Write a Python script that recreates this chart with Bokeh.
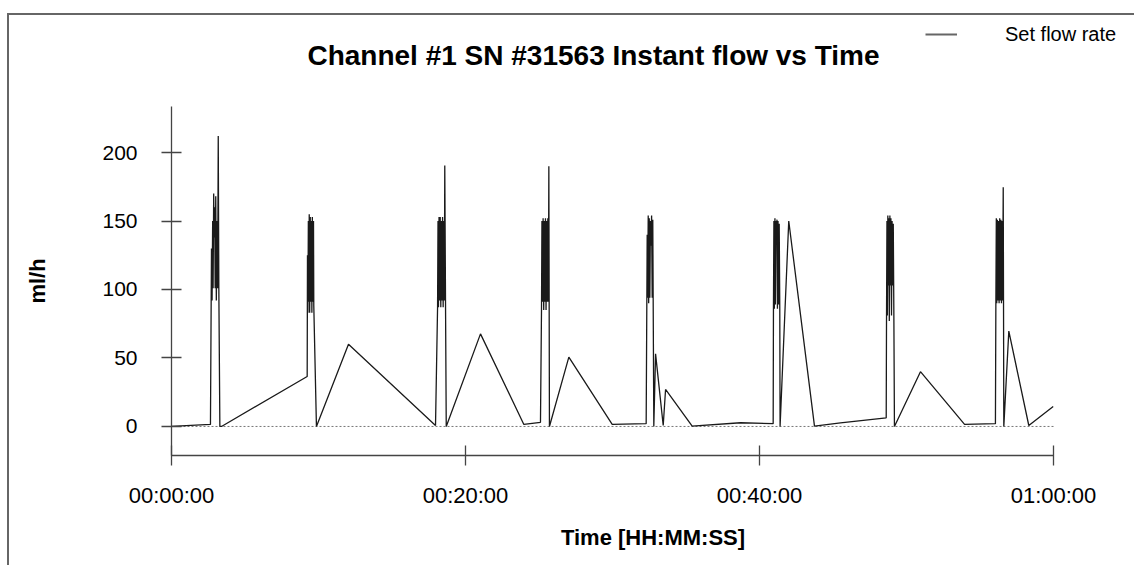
from bokeh.plotting import figure
from bokeh.layouts import column
from bokeh.models import Range1d, FixedTicker, Legend, LegendItem, Label
from bokeh.embed import file_html
from bokeh.resources import INLINE

# ---- data (time in minutes, flow in ml/h) ----
time_min = [
    0.00, 2.65,
    2.72, 2.76, 2.80, 2.83, 2.87, 2.90, 2.94, 2.97, 3.01, 3.05, 3.10, 3.14, 3.18, 3.22, 3.29,
    3.40, 9.23,
    9.25, 9.28, 9.31, 9.34, 9.37, 9.40, 9.44, 9.47, 9.51, 9.55, 9.58, 9.62, 9.66, 9.68, 9.86,
    12.04, 17.96,
    18.10, 18.13, 18.16, 18.20, 18.24, 18.28, 18.32, 18.36, 18.40, 18.44, 18.48, 18.52, 18.56, 18.59, 18.64, 18.69,
    21.02, 23.97, 25.10,
    25.17, 25.20, 25.24, 25.28, 25.32, 25.36, 25.40, 25.44, 25.48, 25.52, 25.56, 25.60, 25.64, 25.67, 25.71,
    27.03, 29.98, 32.29,
    32.36, 32.39, 32.43, 32.46, 32.50, 32.54, 32.58, 32.62, 32.66, 32.70, 32.74, 32.81,
    32.93, 33.45, 33.61, 35.42, 38.71, 40.93,
    40.95, 40.98, 41.01, 41.05, 41.08, 41.12, 41.15, 41.19, 41.22, 41.26, 41.30, 41.34, 41.38, 41.40,
    41.99, 43.74, 45.51, 48.62,
    48.64, 48.67, 48.70, 48.73, 48.76, 48.80, 48.83, 48.87, 48.90, 48.94, 48.98, 49.02, 49.06, 49.10, 49.14, 49.18,
    50.95, 53.95, 56.05,
    56.08, 56.11, 56.14, 56.18, 56.22, 56.26, 56.30, 56.34, 56.38, 56.42, 56.46, 56.50, 56.54, 56.58, 56.60, 56.62,
    56.96, 58.32, 59.98,
]
flow_mlh = [
    0.0, 1.5,
    130, 92, 150, 101, 170, 138, 160, 101, 168, 92, 150, 101, 212, 101, 0,
    0, 36.5,
    125, 83, 150, 91, 155, 83, 153, 91, 150, 83, 153, 91, 150, 88, 0,
    60, 0.7,
    87, 150, 87, 153, 92, 153, 87, 150, 92, 153, 87, 150, 92, 190.5, 92, 0,
    67.6, 1.5, 3,
    85, 150, 91, 152, 85, 150, 91, 152, 85, 150, 91, 152, 91, 190, 0,
    50.6, 1.5, 2,
    140, 94, 154, 90, 152, 94, 150, 132, 154, 94, 151, 0,
    53, 0.7, 27, 0.2, 2.7, 2,
    89, 150, 86, 152, 89, 150, 133, 151, 86, 150, 89, 148, 86, 0,
    150, 0.2, 2.6, 6.3,
    77, 150, 81, 154, 103, 152, 77, 154, 103, 152, 81, 150, 103, 148, 82, 0,
    40, 1.5, 2,
    92, 152, 90, 151, 92, 150, 90, 152, 92, 151, 90, 150, 92, 174.7, 92, 0,
    69.6, 0.7, 14.6,
]
x_ticks = [0, 20, 40, 60]
x_tick_labels = ["00:00:00", "00:20:00", "00:40:00", "01:00:00"]
y_ticks = [0, 50, 100, 150, 200]
y_axis_extent = (-21.2, 233.6)
title_text = "Channel #1 SN #31563 Instant flow vs Time"
x_title = "Time [HH:MM:SS]"
y_title = "ml/h"
legend_label = "Set flow rate"

FONT = "Liberation Sans"
AX = "#444444"

W = 1125          # canvas width (after 7px margin + 2px border)
HT = 91           # header (title + legend) height
HM = 459          # main plot height
FL = 162          # frame left offset (shared by both figures)
PX_PER_MIN = 14.7
FW = W - FL       # frame width

# ---------------- header: title + legend ----------------
top = figure(width=W, height=HT, output_backend="svg", toolbar_location=None, title=None,
             x_axis_type=None, y_axis_type=None,
             x_range=Range1d(0, FW), y_range=Range1d(0, HT),
             min_border_left=FL, min_border_right=0, min_border_top=0, min_border_bottom=0)
top.grid.visible = False
top.outline_line_color = None
top.background_fill_color = "white"
top.border_fill_color = "white"

top.add_layout(Label(x=422, y=51, text=title_text, text_align="center", text_baseline="middle",
                     text_font=FONT, text_font_size="28px", text_font_style="bold", text_color="black"))

lr = top.line([0], [0], line_color="#666666", line_width=2)
legend = Legend(items=[LegendItem(label=legend_label, renderers=[lr])],
                location=(754, 60), padding=0, margin=0, spacing=0,
                glyph_width=32, glyph_height=24, label_height=24, label_standoff=48,
                label_text_font=FONT, label_text_font_size="20px", label_text_color="black",
                border_line_color=None, background_fill_alpha=0)
top.add_layout(legend, "center")

# ---------------- main plot ----------------
p = figure(width=W, height=HM, output_backend="svg", toolbar_location=None, title=None,
           x_range=Range1d(x_ticks[0], x_ticks[0] + FW / PX_PER_MIN), y_range=Range1d(*y_axis_extent),
           min_border_left=FL, min_border_right=0, min_border_top=0, min_border_bottom=110)
p.grid.visible = False
p.outline_line_color = None
p.background_fill_color = "white"
p.border_fill_color = "white"

xa = p.xaxis[0]
xa.ticker = FixedTicker(ticks=x_ticks)
xa.major_label_overrides = {t: l for t, l in zip(x_ticks, x_tick_labels)}
xa.axis_label = x_title
xa.bounds = (x_ticks[0], x_ticks[-1])
ya = p.yaxis[0]
ya.ticker = FixedTicker(ticks=y_ticks)
ya.axis_label = y_title
for ax in (xa, ya):
    ax.axis_line_color = AX
    ax.axis_line_width = 1.3
    ax.major_tick_line_color = AX
    ax.major_tick_line_width = 1.3
    ax.major_tick_in = 10
    ax.major_tick_out = 10
    ax.minor_tick_line_color = None
    ax.major_label_text_font = FONT
    ax.major_label_text_font_size = "21px"
    ax.major_label_text_color = "black"
    ax.axis_label_text_font = FONT
    ax.axis_label_text_font_size = "22px"
    ax.axis_label_text_font_style = "bold"
    ax.axis_label_text_color = "black"
xa.major_label_text_font_size = "22px"
xa.major_label_standoff = 17
xa.axis_label_standoff = 14
ya.major_label_standoff = 24
ya.axis_label_standoff = 49

# zero reference line
p.line([x_ticks[0], x_ticks[-1]], [0, 0], line_color="#777777", line_dash="2 2", line_width=1)

# data
p.line(time_min, flow_mlh, line_color="#1a1a1a", line_width=1.3)

layout = column(top, p, spacing=0)
layout.styles = {"border-top": "2px solid #666666", "border-left": "2px solid #666666",
                 "margin-top": "13px", "margin-left": "7px"}

open("out.html", "w").write(file_html(layout, INLINE))
